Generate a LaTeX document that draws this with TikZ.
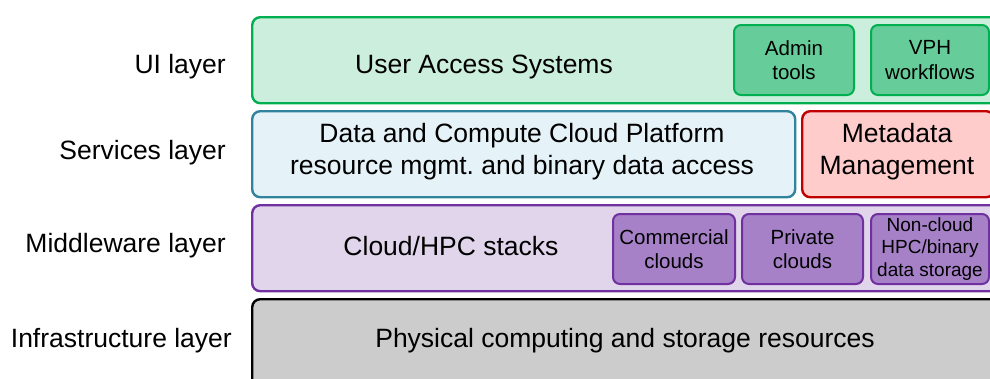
\documentclass[tikz,border=0pt]{standalone}
\usepackage{fontspec}
\setmainfont{Liberation Sans}
\usetikzlibrary{calc}
\definecolor{uiline}{HTML}{00B050}
\definecolor{uifill}{HTML}{CCEEDC}
\definecolor{uisub}{HTML}{66CC99}
\definecolor{svline}{HTML}{31849B}
\definecolor{svfill}{HTML}{E5F3F9}
\definecolor{mdline}{HTML}{C00000}
\definecolor{mdfill}{HTML}{FFCCCC}
\definecolor{mwline}{HTML}{7030A0}
\definecolor{mwfill}{HTML}{E1D5EB}
\definecolor{mwsub}{HTML}{A681C8}
\definecolor{infill}{HTML}{CCCCCC}

\begin{document}
\begin{tikzpicture}[x=1pt, y=-1pt, line join=round,
	bigfont/.style={font=\fontsize{26.5}{32}\selectfont},
	layerbox/.style={draw, line width=2.4pt, rounded corners=8pt, anchor=north west, inner sep=0pt},
	subbox/.style={draw, line width=2pt, rounded corners=7pt, anchor=north west, inner sep=0pt,
		minimum width=120, minimum height=70},
	boxtext/.style={align=center, inner sep=0pt, text=black}]
	% Bild ist rechts und unten abgeschnitten
	\useasboundingbox (0,0) rectangle (990,378);
	\clip (0,0) rectangle (990,378);
	% Schichten (Rahmen)
	\node[layerbox, draw=uiline, fill=uifill, minimum width=752, minimum height=86] (ui) at (251,16) {};
	\node[layerbox, draw=svline, fill=svfill, minimum width=543, minimum height=86] (data) at (251,110) {};
	\node[layerbox, draw=mdline, fill=mdfill, minimum width=192, minimum height=86] (meta) at (801,110) {};
	\node[layerbox, draw=mwline, fill=mwfill, minimum width=752, minimum height=86] (mw) at (251,204) {};
	\node[layerbox, draw=black, fill=infill, minimum width=749, minimum height=90] (infra) at (251,298) {};
	% Unterboxen
	\node[subbox, draw=uiline, fill=uisub] (admin) at (733,24) {};
	\node[subbox, draw=uiline, fill=uisub, minimum width=118] (vph) at (870,24) {};
	\node[subbox, draw=mwline, fill=mwsub, minimum width=122] (comm) at (612,213) {};
	\node[subbox, draw=mwline, fill=mwsub, minimum width=121] (priv) at (741,213) {};
	\node[subbox, draw=mwline, fill=mwsub, minimum width=118] (noncloud) at (870,213) {};
	% Texte in den Boxen
	\node[boxtext, bigfont] (uitext) at (484,67) {User Access Systems};
	\node[boxtext, bigfont] (datatext) at (522,152) {Data and Compute Cloud Platform\\resource mgmt.\ and binary data access};
	\node[boxtext, bigfont] (metatext) at (897,152) {Metadata\\Management};
	\node[boxtext, bigfont] (mwtext) at (451,246) {Cloud/HPC stacks};
	\node[boxtext, bigfont] (infratext) at (625,341) {Physical computing and storage resources};
	\foreach \b/\t in {admin/{Admin\\tools}, vph/{VPH\\workflows}, comm/{Commercial\\clouds}, priv/{Private\\clouds}}
	\node[boxtext, font=\fontsize{20.5}{24.5}\selectfont] (\b text) at (\b.center) {\t};
	\node[boxtext, font=\fontsize{19}{22.5}\selectfont] (noncloudtext) at (noncloud.center) {Non-cloud\\HPC/binary\\data storage};
	% Beschriftung der Schichten links
	\foreach \n/\y/\t in {uilbl/67/UI layer, svlbl/153/Services layer, mwlbl/246/Middleware layer}
	\node[bigfont, anchor=east, inner sep=0pt] (\n) at (226,\y) {\t};
	\node[bigfont, anchor=east, inner sep=0pt] (inlbl) at (232,341) {Infrastructure layer};
\end{tikzpicture}
\end{document}
